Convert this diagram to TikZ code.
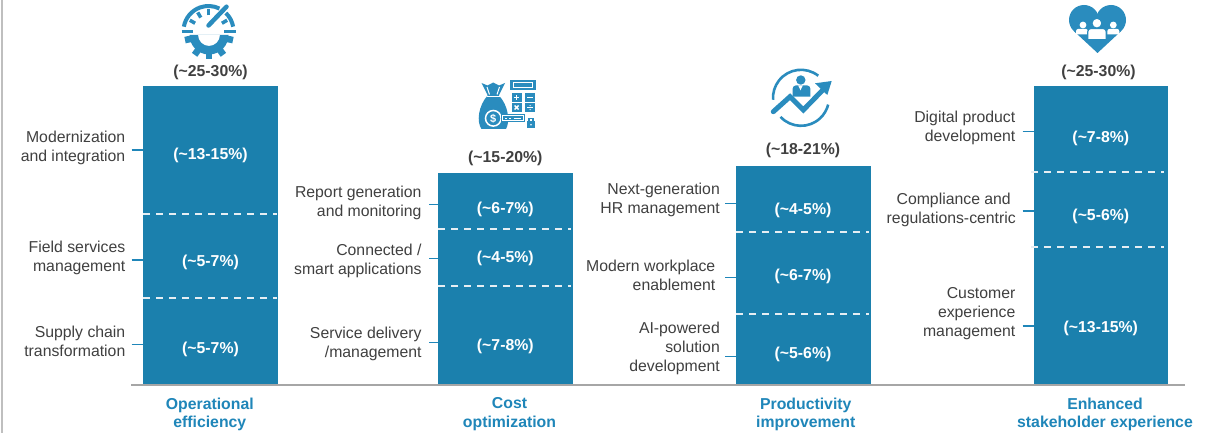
\documentclass[tikz,border=0pt]{standalone}
\usepackage{fontspec}
\setmainfont{Liberation Sans}
\definecolor{barblue}{HTML}{1B80AD}
\definecolor{iconblue}{HTML}{2A8CBE}
\definecolor{catblue}{HTML}{1F86B9}
\definecolor{txtgray}{HTML}{404040}
\definecolor{axisgray}{HTML}{A6A6A6}
\definecolor{framegray}{HTML}{BFBFBF}
\definecolor{dashwhite}{HTML}{E6EEF3}
\tikzset{
  bar/.style={fill=barblue, draw=none, inner sep=0pt, minimum width=134.5pt, anchor=south west},
  lbl/.style={font=\fontsize{15.8}{19}\selectfont, text=txtgray, align=right, anchor=east, inner sep=0pt},
  pct/.style={font=\fontsize{15.8}{19}\selectfont\bfseries, text=white, inner sep=0pt},
  toplbl/.style={font=\fontsize{15.8}{19}\selectfont\bfseries, text=txtgray, inner sep=0pt},
  cat/.style={font=\fontsize{15.8}{18.5}\selectfont\bfseries, text=catblue, align=center, inner sep=0pt},
  tick/.style={draw=catblue, line width=1.5pt},
  dashln/.style={draw=dashwhite, line width=1.8pt, dash pattern=on 7pt off 6pt},
  axisln/.style={draw=axisgray, line width=1.5pt},
}
\begin{document}
\begin{tikzpicture}[x=1pt,y=-1pt]
\useasboundingbox (0,0) rectangle (1216,433);
\fill[white] (0,0) rectangle (1216,433);
% left frame line
\draw[framegray, line width=2pt] (2.2,0) -- (2.2,433);

% bars
\node[bar, minimum height=299pt] (b1) at (143,385) {};
\node[bar, minimum height=211.7pt] (b2) at (438,385) {};
\node[bar, minimum height=218.3pt] (b3) at (736,385) {};
\node[bar, minimum height=299pt] (b4) at (1033.5,385) {};

% dashed separators
\draw[dashln] (143,214.3) -- (277,214.3);
\draw[dashln] (143,298.3) -- (277,298.3);
\draw[dashln] (438,229.3) -- (571,229.3);
\draw[dashln] (438,286) -- (571,286);
\draw[dashln] (736,232.3) -- (869,232.3);
\draw[dashln] (736,314.3) -- (869,314.3);
\draw[dashln] (1031,171.7) -- (1164,171.7);
\draw[dashln] (1031,246.7) -- (1164,246.7);

% axis
\draw[axisln] (131,385) -- (1185,385);

% top values
\node[toplbl] (t1) at (210.5,72.7) {(\textasciitilde25-30\%)};
\node[toplbl] (t2) at (505.3,158.3) {(\textasciitilde15-20\%)};
\node[toplbl] (t3) at (803,150) {(\textasciitilde18-21\%)};
\node[toplbl] (t4) at (1098.5,72.7) {(\textasciitilde25-30\%)};

% segment values
\node[pct] (p11) at (210.5,155) {(\textasciitilde13-15\%)};
\node[pct] (p12) at (210.5,262.7) {(\textasciitilde5-7\%)};
\node[pct] (p13) at (210.5,349.3) {(\textasciitilde5-7\%)};
\node[pct] (p21) at (505.3,209) {(\textasciitilde6-7\%)};
\node[pct] (p22) at (505.3,258.3) {(\textasciitilde4-5\%)};
\node[pct] (p23) at (505.3,346.7) {(\textasciitilde7-8\%)};
\node[pct] (p31) at (803,210) {(\textasciitilde4-5\%)};
\node[pct] (p32) at (803,276) {(\textasciitilde6-7\%)};
\node[pct] (p33) at (803,354.3) {(\textasciitilde5-6\%)};
\node[pct] (p41) at (1100.8,138.3) {(\textasciitilde7-8\%)};
\node[pct] (p42) at (1100.8,216.7) {(\textasciitilde5-6\%)};
\node[pct] (p43) at (1100.8,328.3) {(\textasciitilde13-15\%)};

% side labels
\node[lbl] (l11) at (125.5,147.5) {Modernization\\and integration};
\node[lbl] (l12) at (125.5,257.8) {Field services\\management};
\node[lbl] (l13) at (125.5,341.7) {Supply chain\\transformation};
\node[lbl] (l21) at (421.7,203.3) {Report generation\\and monitoring};
\node[lbl] (l22) at (421.7,260.8) {Connected /\\smart applications};
\node[lbl] (l23) at (421.7,344.2) {Service delivery\\/management};
\node[lbl] (l31) at (720,200.3) {Next-generation\\HR management};
\node[lbl] (l32) at (715.5,275) {Modern workplace\\enablement};
\node[lbl] (l33) at (720,348.9) {AI-powered\\solution\\development};
\node[lbl] (l41) at (1015.5,128.3) {Digital product\\development};
\node[lbl] (l42) at (1016,209.5) {Compliance and\hspace*{5pt}\\regulations-centric};
\node[lbl] (l43) at (1015.5,313.9) {Customer\\experience\\management};

% ticks
\draw[tick] (131.7,150) -- (b1.west |- 0,150);
\draw[tick] (131.7,260) -- (b1.west |- 0,260);
\draw[tick] (131.7,344.3) -- (b1.west |- 0,344.3);
\draw[tick] (429,204.3) -- (b2.west |- 0,204.3);
\draw[tick] (429,258.3) -- (b2.west |- 0,258.3);
\draw[tick] (429,342.3) -- (b2.west |- 0,342.3);
\draw[tick] (725,203.3) -- (b3.west |- 0,203.3);
\draw[tick] (725,277.3) -- (b3.west |- 0,277.3);
\draw[tick] (725,356.7) -- (b3.west |- 0,356.7);
\draw[tick] (1022.7,131.7) -- (b4.west |- 0,131.7);
\draw[tick] (1022.7,211) -- (b4.west |- 0,211);
\draw[tick] (1022.7,326) -- (b4.west |- 0,326);

% categories
\node[cat] (c1) at (209.8,414.2) {Operational\\efficiency};
\node[cat] (c2) at (509.5,414.2) {Cost\\optimization};
\node[cat] (c3) at (805.8,414.2) {Productivity\\improvement};
\node[cat] (c4) at (1105,414.2) {Enhanced\\stakeholder experience};

% ---------- icon 1: gauge + gear ----------
\begin{scope}[shift={(208.5,31)},yscale=-1]
  \draw[iconblue, line width=4pt] (170:25) arc (170:64:25);
  \draw[iconblue, line width=4pt] (46:25) arc (46:10:25);
  \foreach \a in {150,120,90,30} \draw[iconblue, line width=3.5pt] (\a:15.5) -- (\a:21.5);
  \draw[iconblue, line width=3.2pt] (-27,-0.8) -- (-15.5,-0.8);
  \draw[iconblue, line width=3.2pt] (15.5,-0.8) -- (27,-0.8);
  \draw[iconblue, line width=4.5pt, line cap=round] (0,5.5) -- (18,24.3);
\end{scope}
\begin{scope}[shift={(209,35)},yscale=-1]
  \fill[iconblue, even odd rule] (-19.5,0) arc (180:360:19.5) -- cycle (-11,0) arc (180:360:11) -- cycle;
  \foreach \a in {192,234,270,306,348} \draw[iconblue, line width=6.6pt] (\a:16) -- (\a:24.5);
\end{scope}

% ---------- icon 2: money bag + calculator ----------
% calculator
\fill[iconblue] (510,80) rectangle (535.7,90);
\draw[white, line width=1.2pt] (513.2,82.8) rectangle (532.5,87.2);
\fill[iconblue] (511.5,93.3) rectangle (521.7,101.7);
\fill[iconblue] (525,93.3) rectangle (535.2,101.7);
\fill[iconblue] (511.5,103.5) rectangle (521.7,111.7);
\fill[iconblue] (525,103.5) rectangle (535.2,111.7);
\draw[white, line width=1.3pt] (513.9,97.5) -- (519.3,97.5) (516.6,94.8) -- (516.6,100.2);
\draw[white, line width=1.3pt] (527.4,97.5) -- (532.8,97.5);
\draw[white, line width=1.3pt] (514.6,105.5) -- (518.6,109.5) (518.6,105.5) -- (514.6,109.5);
\draw[white, line width=1.1pt] (527.4,107.6) -- (532.8,107.6);
\fill[white] (530.1,105.6) circle (0.7) (530.1,109.6) circle (0.7);
% bag
\fill[iconblue] (488,95) .. controls (478,106) and (476.5,122) .. (481.5,129) -- (506,129) .. controls (510,122) and (509,106) .. (498.5,95) -- cycle;
\fill[iconblue] (488.5,97) -- (481.5,83) -- (487.5,85.5) -- (493.2,82.5) -- (499,85.5) -- (505,83) -- (498,97) -- cycle;
\draw[white, line width=1.1pt] (486.5,96.5) -- (500,96.5);
\draw[white, line width=1pt] (489.5,94.5) -- (487,87);
\draw[white, line width=1pt] (497,94.5) -- (499.5,87);
% coin
\fill[iconblue] (493.3,118.3) circle (10.5);
\draw[white, line width=1.5pt] (493.3,118.3) circle (7.8);
\node[text=white, font=\fontsize{11}{11}\selectfont\bfseries, inner sep=0pt] (dollar) at (493.3,118.5) {\$};
% key shaft
\fill[iconblue] (501,114.5) rectangle (525,122);
\draw[white, line width=1.1pt] (502.5,115.8) rectangle (523.5,120.8);
\draw[white, line width=1.2pt] (505,118.3) -- (507,118.3) (509,118.3) -- (511,118.3) (513.5,118.3) -- (521,118.3);
% lock
\draw[iconblue, line width=1.4pt] (529,121) -- (529,118.6) -- (533,118.6) -- (533,121);
\fill[iconblue] (527,121) rectangle (535,128.5);
\fill[white] (531,124.8) circle (0.9);

% ---------- icon 3: person + growth arrow ----------
\begin{scope}[shift={(801,97.8)},yscale=-1]
  \draw[iconblue, line width=2.6pt] (52:28) arc (52:184:28);
  \draw[iconblue, line width=2.6pt] (223:28) arc (223:346:28);
  \draw[iconblue, line width=5pt, line cap=round, line join=miter] (-27.7,-13.9) -- (-11,1.1) -- (2.3,-12.2) -- (22,8);
  \fill[iconblue] (30.7,16.8) -- (14,14.5) -- (26.3,2.8) -- cycle;
  \fill[iconblue] (-0.2,17.8) circle (4.7);
  \fill[iconblue] (-8.3,1.1) {[rounded corners=3pt] -- (-8.3,12.3) -- (9.3,12.3)} -- (9.3,1.1) -- cycle;
  \fill[white] (-2.8,12.4) -- (1.8,12.4) -- (-0.5,7.5) -- cycle;
\end{scope}

% ---------- icon 4: heart with people ----------
\fill[iconblue] (1084,20) circle (15);
\fill[iconblue] (1111,20) circle (15);
\fill[iconblue] (1097.5,53) -- (1073.8,31) -- (1084,20) -- (1111,20) -- (1121.2,31) -- cycle;
\fill[white] (1083,25) circle (3.4);
\fill[white] (1113.3,25) circle (3.4);
\fill[white] (1076,34.5) {[rounded corners=2.5pt] -- (1076,28.8) -- (1088,28.8)} -- (1088,34.5) -- cycle;
\fill[white] (1107.3,34.5) {[rounded corners=2.5pt] -- (1107.3,28.8) -- (1119.3,28.8)} -- (1119.3,34.5) -- cycle;
\fill[white, draw=iconblue, line width=1.2pt] (1096.9,23.2) circle (5);
\filldraw[fill=white, draw=iconblue, line width=1.2pt] (1087.8,39.8) {[rounded corners=3pt] -- (1087.8,28.5) -- (1106.2,28.5)} -- (1106.2,39.8) -- cycle;
\end{tikzpicture}
\end{document}
